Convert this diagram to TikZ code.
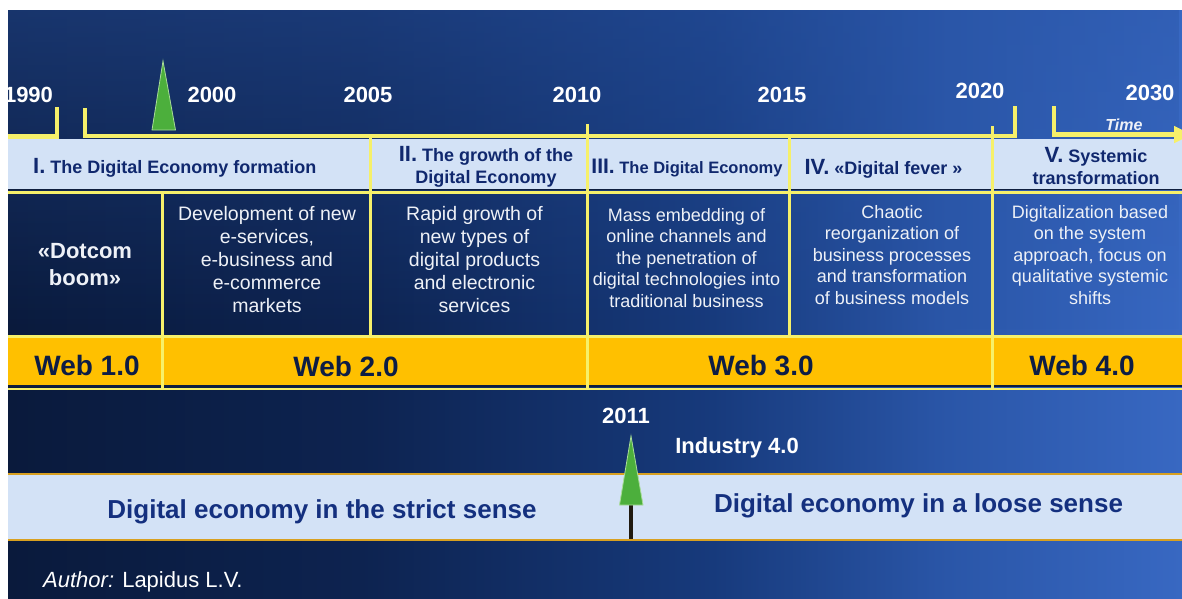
\documentclass[tikz,border=0pt]{standalone}
\usepackage{fontspec}
\setmainfont{Liberation Sans}
\usetikzlibrary{arrows.meta,fadings}
\definecolor{bgA}{HTML}{0A1A3C}
\definecolor{bgB}{HTML}{0D2350}
\definecolor{bgC}{HTML}{173A7C}
\definecolor{bgD}{HTML}{2A56A8}
\definecolor{bgE}{HTML}{3868C2}
\definecolor{ylw}{HTML}{F6F06A}
\definecolor{webbg}{HTML}{FFC000}
\definecolor{hdrbg}{HTML}{D3E2F6}
\definecolor{hdrtxt}{HTML}{10286E}
\definecolor{bandtxt}{HTML}{14307F}
\definecolor{webtxt}{HTML}{0D1D45}
\definecolor{darkln}{HTML}{0E1E3E}
\definecolor{orng}{HTML}{D8A020}
\definecolor{grn}{HTML}{4CAF3C}
\definecolor{grnedge}{HTML}{A8DC98}
\definecolor{stem}{HTML}{201A10}
\definecolor{desctxt}{HTML}{EEF1F7}
\pgfdeclarehorizontalshading{bgshade}{100bp}{color(0bp)=(bgA); color(25bp)=(bgA); color(40bp)=(bgB); color(55bp)=(bgC); color(65bp)=(bgD); color(75bp)=(bgE); color(100bp)=(bgE)}
\newcommand\romnum[1]{{\fontsize{22}{22}\selectfont #1}}
\begin{document}
\begin{tikzpicture}[x=1pt,y=-1pt,
  yl/.style={draw=ylw, line width=3pt},
  tl/.style={draw=ylw, line width=4.5pt, line join=miter},
  year/.style={text=white, font=\fontsize{22}{26}\selectfont\bfseries, inner sep=0pt, anchor=base},
  hdr/.style={text=hdrtxt, font=\fontsize{18}{22}\selectfont\bfseries, align=center, inner sep=0pt},
  descA/.style={text=desctxt, font=\fontsize{19.5}{23}\selectfont, align=center, inner sep=0pt},
  descB/.style={text=desctxt, font=\fontsize{18}{21.5}\selectfont, align=center, inner sep=0pt},
  web/.style={text=webtxt, font=\fontsize{28}{30}\selectfont\bfseries, inner sep=0pt, anchor=base},
  band/.style={text=bandtxt, font=\fontsize{26}{28}\selectfont\bfseries, inner sep=0pt, anchor=base},
  marker/.style={fill=grn, draw=grnedge, line width=0.8pt}]
\useasboundingbox (0,0) rectangle (1182,598);
\fill[white] (0,0) rectangle (1182,598);
\begin{scope}
\clip (8,10) rectangle (1182,598);
\shade[shading=bgshade] (8,10) rectangle (1182,598);
\fill[bgD, path fading=south, fill opacity=0.45] (8,10) rectangle (1182,330);
% header band
\fill[hdrbg] (8,139) rectangle (1182,188.5);
\draw[darkln, line width=1.5pt] (8,189.5) -- (1182,189.5);
\draw[yl] (8,192.5) -- (1182,192.5);
% web band
\fill[webbg] (8,337) rectangle (1182,385);
\draw[yl] (8,336) -- (1182,336);
\draw[darkln, line width=1.5pt] (8,386) -- (1182,386);
\draw[yl, line width=2pt] (8,388.6) -- (1182,388.6);
% vertical separators
\draw[yl] (162,192) -- (162,388);
\draw[yl] (370,136) -- (370,336);
\draw[yl] (587,124) -- (587,388);
\draw[yl] (789,136) -- (789,336);
\draw[yl] (992,126) -- (992,388);
% timeline
\draw[tl] (6,136.5) -- (57,136.5) -- (57,107);
\draw[tl] (85,108) -- (85,136) -- (1015,136) -- (1015,106);
\draw[tl, -{Triangle[length=18pt,width=16pt]}] (1054,106) -- (1054,134.5) -- (1192,134.5);
% green marker (top)
\draw[marker] (163,61) -- (175.5,130) -- (152,130) -- cycle;
% bottom band
\fill[hdrbg] (8,474) rectangle (1182,540);
\draw[orng, line width=1.2pt] (8,474) -- (1182,474);
\draw[orng, line width=1.2pt] (8,540) -- (1182,540);
\draw[stem, line width=3.5pt] (631,500) -- (631,539);
\draw[marker] (631,436) -- (643,505) -- (619.5,505) -- cycle;
% years
\node[year] (y1990) at (28.5,102) {1990};
\node[year] (y2000) at (212,102) {2000};
\node[year] (y2005) at (368,102) {2005};
\node[year] (y2010) at (577,102) {2010};
\node[year] (y2015) at (782,102) {2015};
\node[year] (y2020) at (980,98) {2020};
\node[year] (y2030) at (1150,100) {2030};
\node[text=desctxt, font=\fontsize{16}{18}\selectfont\bfseries\itshape, inner sep=0pt, anchor=base] (time) at (1124,130) {Time};
% header texts
\node[hdr, anchor=base west] (h1) at (33,173) {\romnum{I.} The Digital Economy formation};
\node[hdr] (h2) at (486,167) {\romnum{II.} The growth of the\\Digital Economy};
\node[hdr, anchor=base, font=\fontsize{16.5}{20}\selectfont\bfseries] (h3) at (687,173) {{\fontsize{21}{21}\selectfont III.} The Digital Economy};
\node[hdr, anchor=base] (h4) at (883.5,174) {\romnum{IV.} «Digital fever »};
\node[hdr] (h5) at (1096,166) {\romnum{V.} Systemic\\transformation};
% descriptions
\node[text=desctxt, font=\fontsize{22}{27}\selectfont\bfseries, align=center, inner sep=0pt] (d1) at (85,264.5) {«Dotcom\\boom»};
\node[descA] (d2) at (267,260) {Development of new\\e-services,\\e-business and\\e-commerce\\markets};
\node[descA] (d3) at (474.5,260) {Rapid growth of\\new types of\\digital products\\and electronic\\services};
\node[descB] (d4) at (686.5,258) {Mass embedding of\\online channels and\\the penetration of\\digital technologies into\\traditional business};
\node[descB] (d5) at (892,255) {Chaotic\\reorganization of\\business processes\\and transformation\\of business models};
\node[descB] (d6) at (1090,255) {Digitalization based\\on the system\\approach, focus on\\qualitative systemic\\shifts};
% web
\node[web] (w1) at (87,375) {Web 1.0};
\node[web] (w2) at (346,376) {Web 2.0};
\node[web] (w3) at (761,375) {Web 3.0};
\node[web] (w4) at (1082,375) {Web 4.0};
% bottom
\node[year] (y2011) at (626,423) {2011};
\node[text=white, font=\fontsize{22}{26}\selectfont\bfseries, inner sep=0pt, anchor=base] (ind) at (737,453) {Industry 4.0};
\node[band] (strict) at (322,518) {Digital economy in the strict sense};
\node[band] (loose) at (918.5,512) {Digital economy in a loose sense};
\node[text=white, font=\fontsize{22}{26}\selectfont, inner sep=0pt, anchor=base west] (author) at (43,587) {\textit{Author:} Lapidus L.V.};
\end{scope}
\end{tikzpicture}
\end{document}
